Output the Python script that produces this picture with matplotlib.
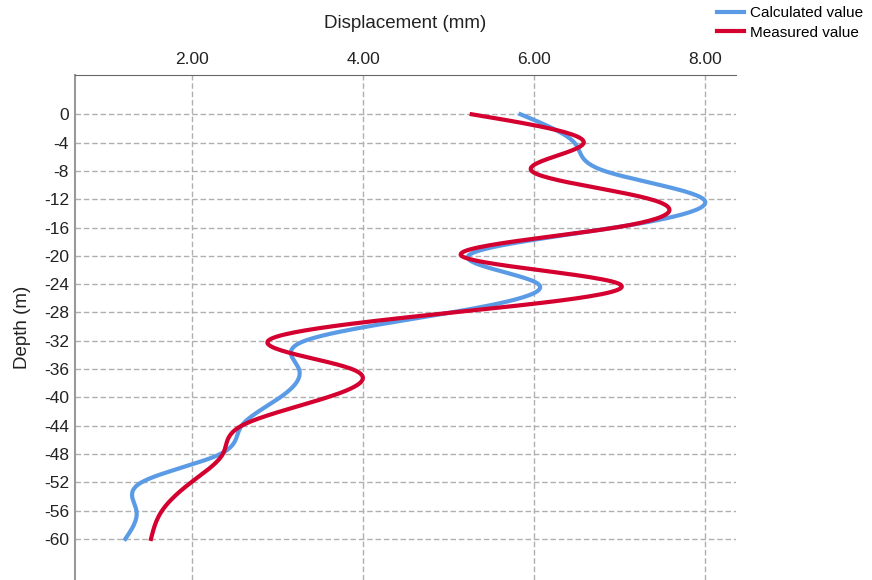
"""Depth vs displacement: calculated and measured profiles"""
import numpy as np
import matplotlib.pyplot as plt

plt.rcParams['font.family'] = ['Liberation Sans', 'DejaVu Sans']
plt.rcParams['axes.unicode_minus'] = False

# values (every 4 m)
depth = [0, -4, -8, -12, -16, -20, -24, -28, -32, -36, -40, -44, -48, -52, -56, -60]
calculated = [5.84, 6.47, 6.82, 7.98, 6.95, 5.23, 6.05, 5.03,
              3.32, 3.25, 3.03, 2.58, 2.33, 1.41, 1.35, 1.22]
measured = [5.27, 6.58, 5.97, 7.36, 6.95, 5.15, 7.00, 5.05,
            2.89, 3.87, 3.58, 2.58, 2.36, 1.99, 1.65, 1.52]
series_labels = ["Calculated value", "Measured value"]
colors = ['#5b9be6', '#d4002f']
xticks = [2, 4, 6, 8]
yticks = list(range(0, -61, -4))


def smooth(ys, xs, n=400):
    # natural cubic spline x(depth), drawn as a smoothed line
    t = np.asarray(ys, float)[::-1]
    v = np.asarray(xs, float)[::-1]
    k = len(t)
    h = np.diff(t)
    A = np.zeros((k, k))
    b = np.zeros(k)
    A[0, 0] = A[-1, -1] = 1
    for i in range(1, k - 1):
        A[i, i-1] = h[i-1]
        A[i, i] = 2 * (h[i-1] + h[i])
        A[i, i+1] = h[i]
        b[i] = 6 * ((v[i+1] - v[i]) / h[i] - (v[i] - v[i-1]) / h[i-1])
    M = np.linalg.solve(A, b)
    tt = np.linspace(t[0], t[-1], n)
    idx = np.clip(np.searchsorted(t, tt) - 1, 0, k - 2)
    a = t[idx + 1] - tt
    c = tt - t[idx]
    hh = h[idx]
    vv = (M[idx] * a**3 + M[idx+1] * c**3) / (6 * hh) \
        + (v[idx] / hh - M[idx] * hh / 6) * a + (v[idx+1] / hh - M[idx+1] * hh / 6) * c
    return vv, tt


fig = plt.figure(figsize=(8.72, 5.8), dpi=100)
ax = fig.add_axes([74.5/872, 0, (736-74.5)/872, (580-75)/580])

for vals, label, c in zip([calculated, measured], series_labels, colors):
    sx, sy = smooth(depth, vals)
    ax.plot(sx, sy, color=c, linewidth=3, label=label)

ax.set_xlim(0.626, 8.36)
ax.set_ylim(-65.8, 5.55)
ax.set_xticks(xticks)
ax.set_xticklabels(["%.2f" % v for v in xticks])
ax.set_yticks(yticks)
ax.xaxis.tick_top()
ax.xaxis.set_label_position('top')
ax.tick_params(length=0, labelsize=12.5, labelcolor='#222222')
ax.tick_params(axis='x', pad=6)
ax.tick_params(axis='y', pad=4)
ax.grid(True, linestyle=(0, (4, 2)), color='#b0b0b0', linewidth=1)
ax.set_axisbelow(True)
for side in ['right', 'bottom']:
    ax.spines[side].set_visible(False)
ax.spines['top'].set_color('#666666')
ax.spines['left'].set_color('#999999')
ax.spines['left'].set_linewidth(1.5)

ax.set_xlabel("Displacement (mm)", fontsize=13.5, labelpad=17, color='#222222')
ax.set_ylabel("Depth (m)", fontsize=13.5, labelpad=9, color='#222222')

fig.legend(loc='upper right', bbox_to_anchor=(1.0, 1.005), frameon=False,
           fontsize=11, handlelength=1.8, handletextpad=0.35, labelspacing=0.35,
           borderaxespad=0.2)

fig.savefig("out.png", dpi=100)
